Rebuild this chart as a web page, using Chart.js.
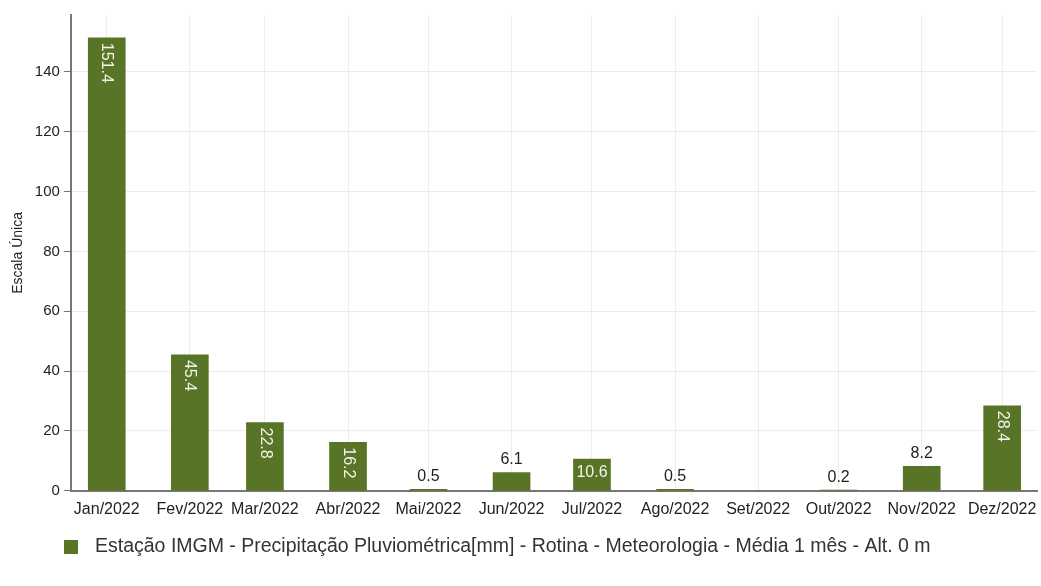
<!DOCTYPE html>
<html>
<head>
<meta charset="utf-8">
<script src="https://cdn.jsdelivr.net/npm/chart.js@4/dist/chart.umd.min.js"></script>
<style>
  html, body { margin: 0; padding: 0; background: #fff; }
  #wrap { width: 1041px; height: 586px; }
</style>
</head>
<body>
<div id="wrap"><canvas id="c"></canvas></div>
<script>
// Monthly rainfall, 2022
const monthStarts = ['2022-01-01','2022-02-01','2022-03-01','2022-04-01','2022-05-01','2022-06-01',
                     '2022-07-01','2022-08-01','2022-09-01','2022-10-01','2022-11-01','2022-12-01'];
const monthLabels = ['Jan/2022','Fev/2022','Mar/2022','Abr/2022','Mai/2022','Jun/2022',
                     'Jul/2022','Ago/2022','Set/2022','Out/2022','Nov/2022','Dez/2022'];
const precipitation = [151.4, 45.4, 22.8, 16.2, 0.5, 6.1, 10.6, 0.5, null, 0.2, 8.2, 28.4];
const yTicks = [0, 20, 40, 60, 80, 100, 120, 140];
const seriesName = 'Estação IMGM - Precipitação Pluviométrica[mm] - Rotina - Meteorologia - Média 1 mês - Alt. 0 m';

const FONT = '"Liberation Sans", Arial, Helvetica, sans-serif';
const BAR = '#587426';

// time axis in days since 1 Jan 2022
const DAY = 86400000;
const dayOf = d => (Date.parse(d) - Date.parse(monthStarts[0])) / DAY;
const monthDays = monthStarts.map(dayOf);

const points = monthDays.map((x, i) => ({ x: x, y: precipitation[i] }));

// value labels: rotated inside tall bars, flat inside medium bars, above short bars
const valueLabels = {
  id: 'valueLabels',
  afterDatasetsDraw(chart) {
    const ctx = chart.ctx;
    const meta = chart.getDatasetMeta(0);
    ctx.save();
    ctx.font = '16px ' + FONT;
    meta.data.forEach((bar, i) => {
      const v = precipitation[i];
      if (v === null || v === undefined) return;
      const txt = v.toFixed(1);
      const w = ctx.measureText(txt).width;
      const h = bar.base - bar.y;
      if (h >= w + 12) {
        ctx.save();
        ctx.translate(bar.x, bar.y + 5);
        ctx.rotate(Math.PI / 2);
        ctx.fillStyle = '#f4f4ea';
        ctx.textAlign = 'left';
        ctx.textBaseline = 'middle';
        ctx.fillText(txt, 0, 0);
        ctx.restore();
      } else if (h >= 28) {
        ctx.fillStyle = '#f4f4ea';
        ctx.textAlign = 'center';
        ctx.textBaseline = 'middle';
        ctx.fillText(txt, bar.x, bar.y + 14);
      } else {
        ctx.fillStyle = '#222';
        ctx.textAlign = 'center';
        ctx.textBaseline = 'bottom';
        ctx.fillText(txt, bar.x, bar.y - 5);
      }
    });
    ctx.restore();
  }
};

// single-entry legend below the axis
const seriesLegend = {
  id: 'seriesLegend',
  afterDraw(chart) {
    const ctx = chart.ctx;
    const y = 547;
    ctx.save();
    ctx.fillStyle = BAR;
    ctx.fillRect(64, y - 7, 14, 14);
    ctx.fillStyle = '#333';
    ctx.font = '19.5px ' + FONT;
    ctx.textAlign = 'left';
    ctx.textBaseline = 'middle';
    ctx.fillText(chart.data.datasets[0].label, 95, y);
    ctx.restore();
  }
};

new Chart(document.getElementById('c'), {
  type: 'bar',
  data: {
    datasets: [{
      label: seriesName,
      data: points,
      backgroundColor: BAR,
      borderWidth: 0,
      barThickness: 37
    }]
  },
  plugins: [valueLabels, seriesLegend],
  options: {
    responsive: true,
    maintainAspectRatio: false,
    animation: false,
    layout: { padding: { top: 15, right: 4, bottom: 58, left: 10 } },
    plugins: {
      legend: { display: false },
      tooltip: { enabled: false }
    },
    scales: {
      x: {
        type: 'linear',
        min: -13.4,
        max: 347,
        offset: false,
        afterBuildTicks: (scale) => { scale.ticks = monthDays.map(v => ({ value: v })); },
        afterFit: (scale) => { scale.paddingRight = 0; },
        ticks: {
          autoSkip: false,
          maxRotation: 0,
          padding: 9,
          color: '#222',
          font: { family: FONT, size: 16 },
          callback: (v, i) => monthLabels[i]
        },
        grid: { color: '#ececec', drawTicks: false, offset: false },
        border: { color: '#777', width: 2 }
      },
      y: {
        min: 0,
        max: 159,
        afterBuildTicks: (scale) => { scale.ticks = yTicks.map(v => ({ value: v })); },
        ticks: {
          padding: 4,
          color: '#222',
          font: { family: FONT, size: 15 }
        },
        grid: { color: '#ececec', tickColor: '#777', tickLength: 7 },
        border: { color: '#777', width: 2 },
        title: {
          display: true,
          text: 'Escala Única',
          color: '#222',
          font: { family: FONT, size: 14 },
          padding: { top: 0, bottom: 4 }
        }
      }
    }
  }
});
</script>
</body>
</html>
